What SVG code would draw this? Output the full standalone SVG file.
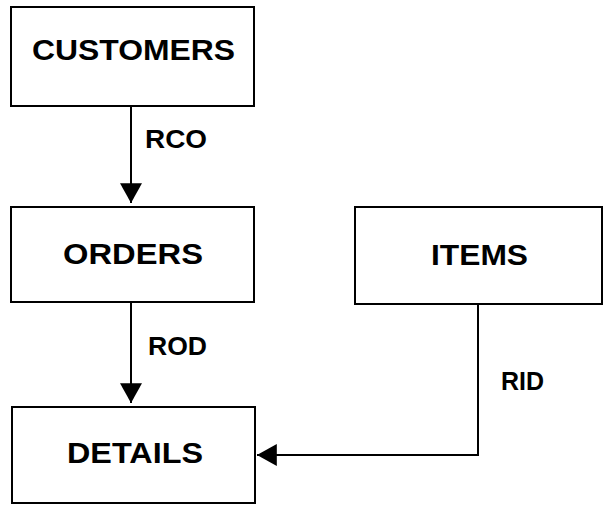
<svg xmlns="http://www.w3.org/2000/svg" width="605" height="507" viewBox="0 0 605 507">
<style>
.box{fill:#fff;stroke:#000;stroke-width:2}
.lbl{font-family:"Liberation Sans",Arial,sans-serif;font-weight:bold;font-size:29px;fill:#000;text-anchor:middle}
.elbl{font-family:"Liberation Sans",Arial,sans-serif;font-weight:bold;font-size:25px;fill:#000}
.edge{fill:none;stroke:#000;stroke-width:2}
</style>
<defs>
<marker id="arr" markerUnits="userSpaceOnUse" markerWidth="22" markerHeight="22" refX="18" refY="10" orient="auto" viewBox="0 0 20 20">
<path d="M0,0 L18,10 L0,20 Z" fill="#000"/>
</marker>
</defs>
<rect width="605" height="507" fill="#fff"/>
<g id="connectors">
<line class="edge" x1="131" y1="106" x2="131" y2="203" marker-end="url(#arr)"/>
<line class="edge" x1="131" y1="302" x2="131" y2="403" marker-end="url(#arr)"/>
<polyline class="edge" points="478,304 478,455 257,455" marker-end="url(#arr)"/>
<text class="elbl" x="145" y="148" textLength="62" lengthAdjust="spacingAndGlyphs">RCO</text>
<text class="elbl" x="148" y="355" textLength="59" lengthAdjust="spacingAndGlyphs">ROD</text>
<text class="elbl" x="501" y="390" textLength="43" lengthAdjust="spacingAndGlyphs">RID</text>
</g>
<g id="customers">
<rect class="box" x="11" y="7" width="243" height="99"/>
<text class="lbl" x="133.5" y="60" textLength="203" lengthAdjust="spacingAndGlyphs">CUSTOMERS</text>
</g>
<g id="orders">
<rect class="box" x="11" y="207" width="243" height="95"/>
<text class="lbl" x="133" y="264" textLength="140" lengthAdjust="spacingAndGlyphs">ORDERS</text>
</g>
<g id="items">
<rect class="box" x="355" y="207" width="247" height="97"/>
<text class="lbl" x="479.5" y="265" textLength="97" lengthAdjust="spacingAndGlyphs">ITEMS</text>
</g>
<g id="details">
<rect class="box" x="12" y="407" width="243" height="96"/>
<text class="lbl" x="135" y="463" textLength="136" lengthAdjust="spacingAndGlyphs">DETAILS</text>
</g>
</svg>
